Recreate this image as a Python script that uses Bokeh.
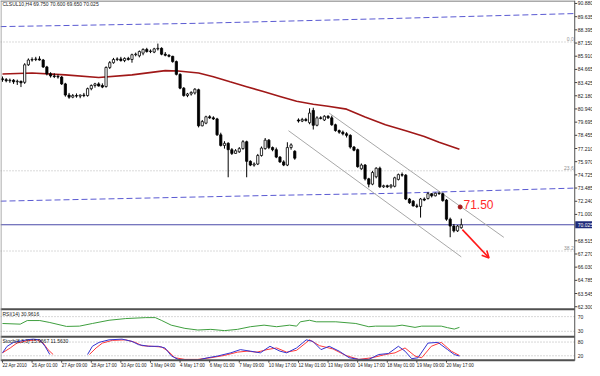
import math
from bokeh.plotting import figure
from bokeh.models import Range1d, Arrow, OpenHead
from bokeh.core.properties import value
from bokeh.embed import file_html
from bokeh.resources import INLINE

# ---------------- data ----------------
title_text = "CLSUL10,H4  69.750 70.600 69.650 70.025"

opens = [83.78, 83.70, 83.60, 83.65, 83.50, 83.55, 83.45, 85.10, 85.55, 85.60,
         85.65, 85.55, 84.90, 84.25, 84.05, 84.00, 83.95, 83.30, 82.25, 82.05,
         82.20, 82.15, 82.25, 82.20, 82.85, 83.15, 83.30, 83.15, 83.05, 84.85,
         85.30, 85.60, 85.65, 85.50, 85.70, 85.60, 86.05, 85.95, 86.20, 86.55,
         86.35, 86.30, 86.60, 86.65, 86.10, 86.00, 85.90, 85.40, 84.20, 82.90,
         82.20, 82.35, 82.45, 82.75, 79.35, 79.60, 80.20, 80.10, 80.00, 78.50,
         77.50, 77.70, 77.10, 76.75, 76.90, 77.20, 77.85, 76.00, 75.65, 75.75,
         76.55, 77.20, 78.00, 77.30, 77.10, 76.40, 75.95, 75.65, 77.30, 76.95,
         79.90, 79.80, 79.95, 79.65, 80.80, 79.40, 80.10, 79.90, 80.25, 80.10,
         79.45, 78.90, 78.75, 78.60, 78.45, 77.35, 77.10, 75.30, 75.65, 74.35,
         73.85, 74.55, 75.35, 73.60, 73.70, 73.60, 73.65, 74.30, 74.75, 74.70,
         72.45, 72.25, 71.80, 71.75, 72.45, 72.50, 72.95, 72.75, 73.00, 72.95,
         72.35, 70.55, 69.90, 69.45, 69.75]
highs = [84.00, 83.85, 83.80, 83.75, 83.70, 83.60, 85.25, 85.70, 85.80, 85.85,
         85.90, 85.65, 85.00, 84.40, 84.30, 84.20, 84.05, 83.40, 82.45, 82.35,
         82.40, 82.30, 82.45, 82.95, 83.25, 83.40, 83.45, 83.35, 84.95, 85.45,
         85.75, 85.80, 85.85, 85.80, 85.85, 86.15, 86.25, 86.45, 86.65, 86.70,
         86.55, 86.70, 87.10, 86.75, 86.30, 86.10, 85.95, 85.50, 84.30, 83.00,
         82.45, 82.60, 82.90, 82.85, 79.90, 80.30, 80.35, 80.25, 80.10, 78.70,
         77.90, 77.80, 77.25, 77.15, 77.35, 78.00, 77.95, 76.10, 75.90, 76.70,
         77.40, 78.20, 78.10, 77.40, 77.30, 76.50, 76.10, 77.80, 77.70, 77.05,
         80.05, 80.10, 80.10, 81.00, 81.05, 80.25, 80.25, 80.35, 80.35, 80.30,
         79.55, 79.00, 78.90, 78.75, 78.55, 77.45, 77.20, 75.80, 75.75, 74.45,
         75.10, 75.45, 75.50, 73.80, 73.80, 73.85, 74.55, 74.85, 74.95, 74.80,
         72.55, 72.35, 72.00, 72.55, 72.60, 73.10, 73.00, 73.05, 73.15, 73.05,
         72.45, 70.70, 70.10, 70.00, 70.60]
lows = [83.50, 83.45, 83.40, 83.30, 83.20, 83.00, 83.30, 85.00, 85.40, 85.45,
        85.50, 84.80, 84.10, 83.90, 83.85, 83.80, 83.20, 82.10, 81.90, 81.95,
        82.00, 81.95, 82.05, 82.10, 82.70, 82.95, 83.05, 82.90, 82.95, 84.70,
        85.20, 85.45, 85.40, 85.35, 85.50, 85.30, 85.90, 85.80, 86.00, 86.25,
        86.20, 86.20, 86.45, 86.00, 85.90, 85.80, 85.30, 84.10, 82.80, 82.10,
        82.05, 82.20, 82.30, 79.20, 79.30, 79.50, 80.00, 79.90, 78.40, 77.40,
        77.20, 74.50, 76.60, 76.70, 76.80, 77.10, 74.50, 75.55, 75.50, 75.65,
        76.45, 77.10, 77.15, 76.95, 76.30, 75.85, 75.55, 75.55, 77.10, 76.15,
        79.65, 79.70, 79.75, 79.50, 79.00, 79.30, 79.95, 79.80, 80.00, 79.35,
        78.80, 78.60, 78.45, 78.25, 77.20, 76.95, 75.40, 75.20, 74.20, 73.55,
        73.75, 74.40, 73.50, 73.50, 73.50, 73.45, 73.55, 74.20, 74.55, 72.35,
        72.00, 71.75, 71.60, 70.70, 72.25, 72.40, 72.60, 72.70, 72.85, 72.20,
        70.40, 68.85, 69.30, 69.35, 69.65]
closes = [83.70, 83.60, 83.65, 83.50, 83.55, 83.40, 85.10, 85.55, 85.60, 85.65,
          85.55, 84.90, 84.25, 84.05, 84.00, 83.95, 83.30, 82.25, 82.05, 82.20,
          82.15, 82.25, 82.20, 82.85, 83.15, 83.30, 83.10, 83.00, 84.85, 85.30,
          85.60, 85.65, 85.50, 85.70, 85.60, 86.05, 86.10, 86.35, 86.55, 86.35,
          86.40, 86.60, 86.65, 86.10, 86.00, 85.90, 85.40, 84.20, 82.90, 82.20,
          82.35, 82.50, 82.80, 79.35, 79.75, 80.20, 80.10, 80.00, 78.50, 77.50,
          77.70, 77.10, 76.75, 77.00, 77.20, 77.85, 76.00, 75.65, 75.75, 76.55,
          77.25, 78.00, 77.30, 77.10, 76.40, 75.95, 75.65, 77.30, 77.55, 76.30,
          79.80, 79.95, 79.85, 80.55, 79.40, 80.10, 80.05, 80.25, 80.10, 79.45,
          78.90, 78.75, 78.60, 78.45, 77.35, 77.05, 75.50, 75.65, 74.35, 73.85,
          74.95, 75.35, 73.60, 73.70, 73.60, 73.75, 74.45, 74.75, 74.70, 72.45,
          72.10, 71.80, 71.75, 72.45, 72.35, 72.95, 72.75, 73.00, 72.95, 72.30,
          70.55, 69.90, 69.45, 69.90, 70.025]

# long moving average (dark red)
ma_bars = [0, 8, 17, 26, 35, 44, 47.5, 53, 57, 61.5, 66, 70.5, 75, 79.5, 84, 88,
           93, 98, 103.5, 109, 114, 118, 123.5]
ma_vals = [84.24, 84.33, 84.15, 83.90, 84.15, 84.55, 84.52, 84.33, 83.97, 83.50,
           83.04, 82.58, 82.12, 81.66, 81.38, 81.20, 80.92, 80.18, 79.45, 78.89,
           78.34, 77.79, 77.14]

# dashed blue trend lines
trend_top_bars = [-0.53, 52.8, 106.1, 154.7]
trend_top_vals = [88.70, 89.01, 89.47, 89.93]
trend_mid_bars = [-0.53, 74.1, 106.1, 154.7]
trend_mid_vals = [72.25, 72.80, 72.99, 73.48]

# grey channel
chan_up_bars = [88.3, 135.5]
chan_up_vals = [80.55, 68.84]
chan_lo_bars = [77.3, 124.0]
chan_lo_vals = [78.89, 67.00]

# fibonacci levels
fib_vals = [87.25, 75.11, 67.55]
fib_names = ["0.0", "23.6", "38.2"]

# target annotation
target_text = "71.50"
target_bar, target_val = 123.7, 71.70
arrow_bars = [124.3, 131.5]
arrow_vals = [69.57, 66.90]

# price axis labels
price_ticks = ["62.300", "63.545", "64.785", "66.030", "67.270", "68.515",
               "71.000", "72.240", "73.485", "74.725", "75.970", "77.210",
               "78.455", "79.695", "80.940", "82.180", "83.425", "84.665",
               "85.910", "87.150", "88.395", "89.635", "90.880"]

# time axis labels
date_bars = [0, 8, 16, 24, 32, 40, 48, 56, 64, 72, 80, 88, 96, 104, 112, 120]
date_labels = ["22 Apr 2010", "26 Apr 01:00", "27 Apr 09:00", "28 Apr 17:00",
               "30 Apr 01:00", "3 May 04:00", "4 May 17:00", "6 May 01:00",
               "7 May 09:00", "10 May 17:00", "12 May 01:00", "13 May 09:00",
               "14 May 17:00", "18 May 01:00", "19 May 09:00", "20 May 17:00"]

# RSI(14)
rsi_text = "RSI(14) 30.9616"
rsi_bars = [0, 4.8, 6.7, 10.1, 12.8, 17.3, 20.8, 24.3, 28.8, 33.3, 38.7, 41.3,
            42.9, 45.6, 49.3, 52.8, 56.3, 60, 63.5, 67, 70.7, 74.1, 77.6, 79.5,
            80.5, 83, 84.8, 90.1, 95.5, 99, 100.8, 106.1, 108, 111.5, 113.3,
            118.6, 120.3, 122.1, 123.5]
rsi_vals = [51.3, 49.5, 59.3, 59.3, 54.0, 43.3, 44.1, 51.3, 60.1, 64.7, 67.3, 67.3,
            60.1, 46.8, 38.0, 33.5, 35.3, 31.9, 35.3, 42.5, 46.8, 42.5, 46.8, 44.1,
            55.9, 60.1, 55.9, 55.9, 51.3, 42.5, 44.1, 44.1, 46.8, 40.7, 44.1,
            44.1, 39.9, 36.1, 40.7]
rsi_levels = [70, 30]

# Stochastic
stoch_text = "Stoch(8,3,3) 15.9667 11.5630"
NaN = float("nan")
stk_bars = [0, 1.25, 3, 6.6, 8.3, 10.1, 11.5, 12.8, 18,
            23, 24.3, 26.1, 28.8, 32.3, 35, 36.8, 39.5, 42.1, 43.9, 45.7, 47.5,
            49.3, 52.8, 55.5, 58.1, 61.7, 64.3, 67, 69.7, 72.3, 75, 76.8, 79.5,
            82.1, 83.9, 86.1, 88.3, 91, 93.7, 96.3, 99, 101.7, 104.3, 107, 108.8,
            110.6, 112.3, 115, 117.7, 120.3, 122.1, 123.5]
stk_vals = [32.9, 61.5, 78.6, 89.7, 92.7, 89.7, 61.5, 25.6, NaN,
            25.6, 61.5, 78.6, 89.7, 92.7, 82.9, 68.4, 61.5, 61.5, 54.3, 18.8, 4.3,
            1.7, 1.7, 11.5, 18.8, 32.9, 47.0, 40.2, 32.9, 61.5, 40.2, 32.9, 54.3,
            89.7, 82.9, 47.0, 61.5, 40.2, 11.5, 4.3, 4.3, 25.6, 29.9, 61.5, 40.2,
            7.3, 11.5, 75.6, 78.6, 47.0, 25.6, 18.8]
sig_bars = [0, 2.1, 3.9, 6.6, 9.3, 11, 12.3, 13.7, 18,
            23.5, 25.3, 27, 29.7, 33.3, 35.9, 37.7, 40.3, 43, 44.8, 46.6, 49.3,
            52.8, 56.3, 59.9, 63.5, 66.1, 68.8, 71.5, 74.1, 76.8, 79.5, 83, 85.7,
            89.3, 92.8, 96.3, 99.9, 103.5, 106.1, 108.8, 111.5, 113.3, 115.9,
            118.6, 121.3, 123.5]
sig_vals = [32.9, 54.3, 75.6, 85.5, 89.7, 75.6, 47.0, 25.6, NaN,
            25.6, 54.3, 75.6, 87.2, 89.7, 78.6, 64.1, 61.5, 58.5, 40.2, 11.5, 4.3,
            4.3, 11.5, 21.4, 35.9, 40.2, 35.9, 47.0, 54.3, 35.9, 44.0, 89.7, 64.1,
            50.0, 21.4, 4.3, 11.5, 25.6, 32.9, 54.3, 18.8, 11.5, 61.5, 78.6, 40.2,
            21.4]
stoch_levels = [80, 20]

# ---------------- layout helpers (reference pixels -> data units) ----------------
def XP(xr):
    return (xr - 2.0) / 3.75

def YP(yr):
    return 91.16 - 0.09224 * yr

FONT = value("Liberation Sans")

p = figure(width=592, height=368, output_backend="svg", toolbar_location=None,
           x_range=Range1d(XP(0), XP(600)), y_range=Range1d(YP(376), YP(0)),
           x_axis_location=None, y_axis_location=None, min_border=0)
p.min_border_left = p.min_border_right = p.min_border_top = p.min_border_bottom = 0
p.outline_line_color = None
p.background_fill_color = "white"
p.border_fill_color = "white"
p.grid.visible = False

# indicator ranges (RSI: 70 at row 323, 30 at row 338; Stoch: 0..100 over rows 367.7..344.3)
rsi_px = 0.375
p.extra_y_ranges = {
    "rsi": Range1d(70 - (376 - 323) / rsi_px, 70 + 323 / rsi_px),
    "stoch": Range1d(-(376 - 367.7) / 0.234, 367.7 / 0.234),
}

XR = XP(582)
# fib dotted lines
p.segment(x0=[XP(0)] * 3, x1=[XR] * 3, y0=fib_vals, y1=fib_vals,
          line_color="#b4b4b4", line_width=1, line_dash="1 2")
p.text(x=[XP(581)] * 3, y=[v + 0.12 for v in fib_vals], text=fib_names,
       text_font=FONT, text_font_size="5px", text_color="#909090",
       text_align="right", text_baseline="bottom")

# dashed blue trend lines
p.line(trend_top_bars, trend_top_vals, line_color="#5a5ad2", line_width=1, line_dash="6 3")
p.line(trend_mid_bars, trend_mid_vals, line_color="#5a5ad2", line_width=1, line_dash="6 3")

# current price line
p.segment(x0=[XP(0)], x1=[XR], y0=[closes[-1]], y1=[closes[-1]],
          line_color="#4a4aa8", line_width=1)

# channel
p.line(chan_up_bars, chan_up_vals, line_color="#a8a8a8", line_width=1)
p.line(chan_lo_bars, chan_lo_vals, line_color="#a8a8a8", line_width=1)

# moving average
p.line(ma_bars, ma_vals, line_color="#a01818", line_width=1.6)

# candles
idx = list(range(len(opens)))
p.segment(x0=idx, x1=idx, y0=highs, y1=lows, line_color="black", line_width=1)
tops = [max(o, c) for o, c in zip(opens, closes)]
bots = [min(o, c) for o, c in zip(opens, closes)]
fills = ["white" if c >= o else "black" for o, c in zip(opens, closes)]
p.vbar(x=idx, width=0.6, top=tops, bottom=bots, fill_color=fills,
       line_color="black", line_width=0.8)

# target annotation
p.scatter([target_bar], [target_val], size=4, marker="circle",
          fill_color="#a01818", line_color="#a01818")
p.text(x=[target_bar + 0.9], y=[target_val - 0.15], text=[target_text],
       text_font=FONT, text_font_size="12px", text_color="#ff2a2a",
       text_align="left", text_baseline="bottom")
p.add_layout(Arrow(x_start=arrow_bars[0], y_start=arrow_vals[0],
                   x_end=arrow_bars[1], y_end=arrow_vals[1],
                   line_color="#ff1a1a", line_width=1.6,
                   end=OpenHead(size=7, line_color="#ff1a1a", line_width=1.6)))

# title
p.text(x=[XP(2)], y=[YP(1)], text=[title_text], text_font=FONT,
       text_font_size="5px", text_color="#202020", text_align="left",
       text_baseline="top")

# price axis
tick_vals = [float(t) for t in price_ticks]
p.segment(x0=[XR] * len(tick_vals), x1=[XP(584.5)] * len(tick_vals),
          y0=tick_vals, y1=tick_vals, line_color="#404040", line_width=1)
p.text(x=[XP(585)] * len(tick_vals), y=tick_vals, text=price_ticks,
       text_font=FONT, text_font_size="5px", text_color="#202020",
       text_align="left", text_baseline="middle")
# current price tag
p.quad(left=[XP(582.5)], right=[XP(600)], top=[closes[-1] + 0.32],
       bottom=[closes[-1] - 0.32], fill_color="#1e2a78", line_color=None)
p.text(x=[XP(585)], y=[closes[-1]], text=["%.3f" % closes[-1]],
       text_font=FONT, text_font_size="5px", text_color="white",
       text_align="left", text_baseline="middle")

# RSI panel
p.segment(x0=[XP(0)] * 2, x1=[XR] * 2, y0=rsi_levels, y1=rsi_levels,
          line_color="#b0b0b0", line_width=1, line_dash="1 2", y_range_name="rsi")
p.line(rsi_bars, rsi_vals, line_color="#3f9f3f", line_width=1, y_range_name="rsi")
p.text(x=[XP(2)], y=[YP(320.5)], text=[rsi_text], text_font=FONT,
       text_font_size="5px", text_color="#202020", text_align="left",
       text_baseline="middle")
p.text(x=[XP(585)] * 2, y=rsi_levels, text=[str(v) for v in rsi_levels],
       text_font=FONT, text_font_size="5px", text_color="#202020",
       text_align="left", text_baseline="middle", y_range_name="rsi")

# Stochastic panel
p.segment(x0=[XP(0)] * 2, x1=[XR] * 2, y0=stoch_levels, y1=stoch_levels,
          line_color="#b0b0b0", line_width=1, line_dash="1 2", y_range_name="stoch")
p.line(sig_bars, sig_vals, line_color="#ff3a3a", line_width=1, y_range_name="stoch")
p.line(stk_bars, stk_vals, line_color="#3434d0", line_width=1, y_range_name="stoch")
p.text(x=[XP(2)], y=[YP(347.5)], text=[stoch_text], text_font=FONT,
       text_font_size="5px", text_color="#202020", text_align="left",
       text_baseline="middle")
p.text(x=[XP(585)] * 2, y=stoch_levels, text=[str(v) for v in stoch_levels],
       text_font=FONT, text_font_size="5px", text_color="#202020",
       text_align="left", text_baseline="middle", y_range_name="stoch")

# frame lines
p.segment(x0=[XP(0)] * 4, x1=[XR] * 4,
          y0=[YP(0.5), YP(315.5), YP(343.5), YP(367.5)],
          y1=[YP(0.5), YP(315.5), YP(343.5), YP(367.5)],
          line_color="#505050", line_width=[1, 2, 2, 2])
p.segment(x0=[XR], x1=[XR], y0=[YP(0)], y1=[YP(368)], line_color="#505050", line_width=1)
p.segment(x0=[XP(0.5)], x1=[XP(0.5)], y0=[YP(0)], y1=[YP(368)], line_color="#909090", line_width=1)

# time axis
p.segment(x0=date_bars, x1=date_bars, y0=[YP(368)] * len(date_bars),
          y1=[YP(370)] * len(date_bars), line_color="#404040", line_width=1)
p.text(x=date_bars, y=[YP(372.5)] * len(date_bars), text=date_labels,
       text_font=FONT, text_font_size="4.5px", text_color="#202020",
       text_align="left", text_baseline="middle")

open("out.html", "w").write(file_html(p, INLINE))
